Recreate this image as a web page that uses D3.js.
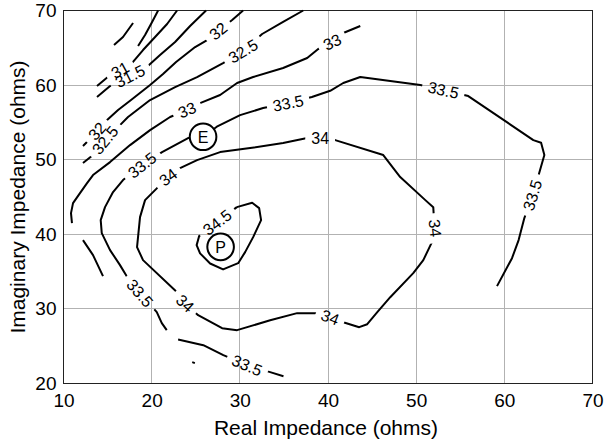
<!DOCTYPE html>
<html>
<head>
<meta charset="utf-8">
<script src="https://cdn.jsdelivr.net/npm/d3@7"></script>
<style>
  body { margin: 0; background: #fff; }
  text { font-family: "Liberation Sans", Arial, Helvetica, sans-serif; fill: #000; }
</style>
</head>
<body>
<svg id="chart" width="604" height="442"></svg>
<script>
// ---- axis ticks ----
const xTicks = [10, 20, 30, 40, 50, 60, 70];
const yTicks = [20, 30, 40, 50, 60, 70];

// ---- contour pieces: [real, imaginary] in ohms ----
const c30a = [[15.73,65.37],[16.75,66.45],[17.89,68.32]];
const c30b = [[20.73,70],[20.05,68.46],[19.25,66.71],[18.46,65.24]];
const c31 = [[13.80,59.87],[15.16,61.22],[16.41,62.02],[17.74,62.92],[19.02,64.70],[20.39,66.45],[21.75,68.19],[22.88,70]];
const c31_5 = [[13.80,58.40],[15.28,59.87],[17.55,61.22],[19.70,62.69],[20.95,64.03],[22.66,65.78],[24.36,67.92],[26.17,70]];
const c32 = [[12.21,51.83],[12.89,52.63],[13.80,53.84],[14.82,55.18],[16.19,56.66],[17.66,58.00],[19.82,60.01],[21.29,61.48],[22.77,63.09],[24.93,65.10],[26.29,66.04],[27.54,67.25],[29.13,68.73],[30.37,70]];
const c32_5 = [[12.21,49.55],[13.35,50.62],[14.71,52.63],[16.41,54.64],[17.32,55.72],[19.82,58.00],[22.66,59.74],[25.15,61.08],[28.10,62.96],[30.37,64.57],[32.53,66.85],[34.91,68.46],[37.19,70]];
const c33 = [[10.96,41.50],[10.85,42.84],[11.08,44.18],[11.87,45.52],[12.67,46.86],[13.35,47.94],[15.28,49.68],[17.55,51.96],[19.82,53.97],[22.09,55.72],[24.02,56.66],[25.49,57.59],[27.76,58.67],[29.69,60.28],[31.51,61.08],[34.91,62.29],[37.64,63.63],[38.89,64.84],[40.48,65.78],[41.73,66.98],[43.66,67.92]];
const c33b = [[12.21,39.22],[13.35,37.21],[14.48,34.39]];
const c33_5 = [[21.71,27.15],[21.15,28.09],[20.58,29.56],[18.68,32.11],[17.17,34.39],[16.41,35.87],[15.28,37.88],[14.34,40.16],[14.22,41.90],[14.71,43.64],[15.62,45.66],[16.75,47.27],[18.91,49.28],[21.18,51.02],[24.13,52.90],[25.83,53.07],[27.39,54.42],[30.03,55.98],[32.64,56.92],[35.48,57.59],[38.17,58.40],[40.25,59.24],[41.73,60.28],[43.66,61.08],[50.47,60.01],[53.08,59.34],[55.91,58.53],[63.29,52.63],[64.17,52.27],[64.54,50.62],[63.89,47.94],[63.18,45.25],[62.27,42.17],[61.62,39.22],[60.87,36.80],[59.17,33.05]];
const c33_5b = [[23.00,25.90],[25.86,25.14],[28.13,23.80],[30.83,22.45],[33.44,21.52],[34.95,20.98]];
const c33_5c = [[24.60,22.86],[24.90,22.73]];
const c34 = [[21.86,47.67],[23.22,48.88],[25.15,49.95],[27.76,51.02],[31.17,51.56],[34.91,52.23],[37.64,52.90],[39.11,52.90],[40.82,52.63],[46.27,50.62],[48.19,47.67],[51.04,44.58],[51.94,43.64],[51.98,42.84],[52.17,40.83],[51.79,38.95],[50.81,36.54],[49.67,34.79],[47.06,31.57],[45.59,29.56],[44.45,27.95],[43.54,27.55],[41.73,28.22],[40.25,28.89],[38.54,29.43],[36.50,29.43],[33.44,28.48],[29.69,27.15],[27.99,27.42],[25.27,29.16],[23.79,30.77],[23.00,32.11],[19.02,36.54],[18.34,38.28],[18.68,42.30],[19.25,44.58],[20.61,46.19],[21.86,47.67]];
const c34_5 = [[29.66,43.64],[31.40,44.22],[32.19,43.51],[32.41,41.90],[31.51,39.62],[30.60,37.61],[29.81,36.13],[28.10,35.29],[26.63,36.09],[25.49,37.44],[25.10,38.55],[25.38,39.75],[29.66,43.64]];

// ---- inline level labels: [real, imaginary] ----
const lab31 = [[16.41,62.02]];
const lab31_5 = [[17.55,61.22]];
const lab32 = [[13.80,53.84],[27.54,67.25]];
const lab32_5 = [[14.71,52.63],[30.37,64.57]];
const lab33 = [[24.02,56.66],[40.48,65.78]];
const lab33_5 = [[18.68,32.11],[18.91,49.28],[35.48,57.59],[53.08,59.34],[63.18,45.25]];
const lab33_5b = [[30.83,22.45]];
const lab34 = [[21.86,47.67],[39.11,52.90],[52.17,40.83],[40.25,28.89],[23.79,30.77]];
const lab34_5 = [[27.39,41.67]];

// ---- marked operating points ----
const markerNames = ["E", "P"];
const markerReal = [25.83, 27.82];
const markerImag = [53.07, 38.32];

const pieces = [
  { level: 30.5, pts: c30a, labels: [] },
  { level: 30.5, pts: c30b, labels: [] },
  { level: 31, pts: c31, labels: lab31 },
  { level: 31.5, pts: c31_5, labels: lab31_5 },
  { level: 32, pts: c32, labels: lab32 },
  { level: 32.5, pts: c32_5, labels: lab32_5 },
  { level: 33, pts: c33, labels: lab33 },
  { level: 33, pts: c33b, labels: [] },
  { level: 33.5, pts: c33_5, labels: lab33_5 },
  { level: 33.5, pts: c33_5b, labels: lab33_5b },
  { level: 33.5, pts: c33_5c, labels: [] },
  { level: 34, pts: c34, labels: lab34 },
  { level: 34.5, pts: c34_5, labels: lab34_5 }
];

const W = 604, H = 442;
const svg = d3.select("#chart");
const defs = svg.append("defs");

const x = d3.scaleLinear().domain([10, 70]).range([63.5, 592.5]);
const y = d3.scaleLinear().domain([20, 70]).range([383.5, 10.5]);
const snap = v => Math.round(v - 0.5) + 0.5;

// grid lines
const grid = svg.append("g").attr("stroke", "#b2b2b2").attr("stroke-width", 1);
grid.selectAll("line.gx").data(xTicks.slice(1, -1)).join("line")
  .attr("x1", d => snap(x(d))).attr("x2", d => snap(x(d)))
  .attr("y1", y(20)).attr("y2", y(70));
grid.selectAll("line.gy").data(yTicks.slice(1, -1)).join("line")
  .attr("y1", d => snap(y(d))).attr("y2", d => snap(y(d)))
  .attr("x1", x(10)).attr("x2", x(70));

// axes (labels only)
const gx = svg.append("g").attr("transform", `translate(0,${y(20)})`)
  .call(d3.axisBottom(x).tickValues(xTicks).tickSize(0).tickPadding(10).tickFormat(d3.format("d")));
const gy = svg.append("g").attr("transform", `translate(${x(10)},0)`)
  .call(d3.axisLeft(y).tickValues(yTicks).tickSize(0).tickPadding(7).tickFormat(d3.format("d")));
[gx, gy].forEach(g => {
  g.select(".domain").remove();
  g.selectAll("text").style("font-size", "19px").style("font-family", '"Liberation Sans", Arial, sans-serif').attr("fill", "#1a1a1a");
});

// plot frame
svg.append("rect")
  .attr("x", x(10)).attr("y", y(70))
  .attr("width", x(70) - x(10)).attr("height", y(20) - y(70))
  .attr("fill", "none").attr("stroke", "#222").attr("stroke-width", 1);

// axis titles
svg.append("text").attr("x", 326).attr("y", 434.5).attr("text-anchor", "middle")
  .style("font-size", "21px").attr("fill", "#1a1a1a").text("Real Impedance (ohms)");
svg.append("text").attr("transform", "translate(25,197) rotate(-90)").attr("text-anchor", "middle")
  .style("font-size", "21px").attr("fill", "#1a1a1a").text("Imaginary Impedance (ohms)");

// contour lines with inline labels
const line = d3.line().x(d => x(d[0])).y(d => y(d[1]));
const lineLayer = svg.append("g");
const labelLayer = svg.append("g");
const pad = 6;

pieces.forEach((p, i) => {
  const pix = p.pts.map(d => [x(d[0]), y(d[1])]);
  let maskRef = null;
  if (p.labels.length) {
    const mask = defs.append("mask").attr("id", "cm" + i)
      .attr("maskUnits", "userSpaceOnUse").attr("x", 0).attr("y", 0).attr("width", W).attr("height", H);
    mask.append("rect").attr("width", W).attr("height", H).attr("fill", "white");
    p.labels.forEach(l => {
      const q = [x(l[0]), y(l[1])];
      let best = null;
      for (let k = 0; k < pix.length - 1; k++) {
        const a = pix[k], b = pix[k + 1];
        const dx = b[0] - a[0], dy = b[1] - a[1];
        const len2 = dx * dx + dy * dy || 1;
        const t = Math.max(0, Math.min(1, ((q[0] - a[0]) * dx + (q[1] - a[1]) * dy) / len2));
        const px = a[0] + t * dx, py = a[1] + t * dy;
        const dd = (px - q[0]) ** 2 + (py - q[1]) ** 2;
        if (!best || dd < best.dd) best = { dd, px, py, ang: Math.atan2(dy, dx) * 180 / Math.PI };
      }
      let ang = best.ang;
      if (ang > 90) ang -= 180;
      if (ang <= -90) ang += 180;
      const tf = `translate(${best.px},${best.py}) rotate(${ang})`;
      const txt = labelLayer.append("text").attr("transform", tf)
        .attr("text-anchor", "middle").attr("dy", "0.36em")
        .style("font-size", "16px").text(String(p.level));
      const w = txt.node().getComputedTextLength();
      mask.append("rect").attr("transform", tf)
        .attr("x", -w / 2 - pad).attr("y", -9).attr("width", w + 2 * pad).attr("height", 18)
        .attr("fill", "black");
    });
    maskRef = `url(#cm${i})`;
  }
  lineLayer.append("path").attr("d", line(p.pts))
    .attr("fill", "none").attr("stroke", "#000").attr("stroke-width", 2)
    .attr("stroke-linejoin", "round").attr("mask", maskRef);
});

// operating point markers
const mk = svg.append("g").selectAll("g").data(markerNames).join("g")
  .attr("transform", (d, i) => `translate(${x(markerReal[i])},${y(markerImag[i])})`);
mk.append("circle").attr("r", 13.3).attr("fill", "#fff").attr("stroke", "#000").attr("stroke-width", 2);
mk.append("text").attr("text-anchor", "middle").attr("dy", "0.36em")
  .style("font-size", "16px").text(d => d);
</script>
</body>
</html>
